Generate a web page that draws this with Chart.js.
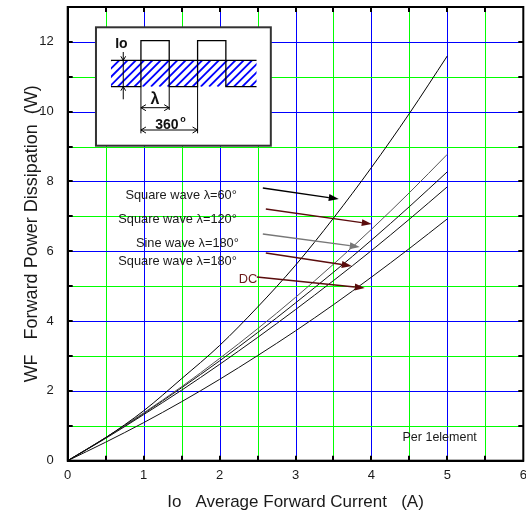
<!DOCTYPE html>
<html>
<head>
<meta charset="utf-8">
<script src="https://cdn.jsdelivr.net/npm/chart.js@4.4.1/dist/chart.umd.min.js"></script>
<style>
html,body{margin:0;padding:0;background:#fff;}
canvas{display:block;}
</style>
</head>
<body>
<canvas id="c" width="526" height="515"></canvas>
<script>
// ---- data ----
const current = [0, 0.5, 1, 1.5, 2, 2.5, 3, 3.5, 4, 4.5, 5];
const squareWave60  = [0, 0.66, 1.43, 2.35, 3.30, 4.40, 5.60, 6.95, 8.40, 9.95, 11.6];
const squareWave120 = [0, 0.66, 1.37, 2.12, 2.93, 3.78, 4.68, 5.63, 6.63, 7.68, 8.78];
const sineWave180   = [0, 0.66, 1.35, 2.09, 2.86, 3.67, 4.52, 5.40, 6.32, 7.28, 8.28];
const squareWave180 = [0, 0.64, 1.32, 2.02, 2.76, 3.53, 4.33, 5.16, 6.02, 6.92, 7.85];
const dcValues      = [0, 0.53, 1.09, 1.69, 2.33, 3.01, 3.72, 4.47, 5.26, 6.08, 6.93];
const seriesNames = ['Square wave λ=60°', 'Square wave λ=120°', 'Sine wave λ=180°', 'Square wave λ=180°', 'DC'];
const xTickValues = [0, 1, 2, 3, 4, 5, 6];
const yTickValues = [0, 2, 4, 6, 8, 10, 12];

const FAMILY = "'Liberation Sans', Arial, Helvetica, sans-serif";
const pts = arr => current.map((x, i) => ({x: x, y: arr[i]}));
const lineColors = ['#000000', '#555555', '#111111', '#111111', '#111111'];
const allSeries = [squareWave60, squareWave120, sineWave180, squareWave180, dcValues];

// annotation layout (reference pixel space, converted through the scales)
const annot = [
  {tx: 237, ty: 195, ax1: 263, ay1: 188, ax2: 339, ay2: 199, arrow: '#000000', text: '#1a1a1a'},
  {tx: 237, ty: 219, ax1: 266, ay1: 209, ax2: 372, ay2: 224, arrow: '#5a0c0c', text: '#1a1a1a'},
  {tx: 239, ty: 243, ax1: 263, ay1: 234, ax2: 360, ay2: 247, arrow: '#777777', text: '#1a1a1a'},
  {tx: 237, ty: 261, ax1: 266, ay1: 253, ax2: 352, ay2: 266, arrow: '#5a0c0c', text: '#1a1a1a'},
  {tx: 257, ty: 279, ax1: 257, ay1: 277, ax2: 365, ay2: 288, arrow: '#5a0c0c', text: '#6b1a1a', left: 239}
];

function mapRef(chart, rx, ry) {
  const xs = chart.scales.x, ys = chart.scales.y;
  return [xs.getPixelForValue((rx - 67.7) / 76), ys.getPixelForValue((460.7 - ry) / 34.9)];
}

function filledArrow(ctx, x1, y1, x2, y2, color) {
  const head = 10, w = 3.5;
  const a = Math.atan2(y2 - y1, x2 - x1);
  const bx = x2 - head * Math.cos(a), by = y2 - head * Math.sin(a);
  ctx.save();
  ctx.strokeStyle = color; ctx.fillStyle = color; ctx.lineWidth = 1.3;
  ctx.beginPath(); ctx.moveTo(x1, y1); ctx.lineTo(bx, by); ctx.stroke();
  ctx.beginPath();
  ctx.moveTo(x2, y2);
  ctx.lineTo(bx - w * Math.sin(a), by + w * Math.cos(a));
  ctx.lineTo(bx + w * Math.sin(a), by - w * Math.cos(a));
  ctx.closePath(); ctx.fill();
  ctx.restore();
}

function chevron(ctx, x, y, dir, s) {
  ctx.beginPath();
  if (dir === 'l') { ctx.moveTo(x + s, y - s * 0.6); ctx.lineTo(x, y); ctx.lineTo(x + s, y + s * 0.6); }
  if (dir === 'r') { ctx.moveTo(x - s, y - s * 0.6); ctx.lineTo(x, y); ctx.lineTo(x - s, y + s * 0.6); }
  if (dir === 'd') { ctx.moveTo(x - s * 0.6, y - s); ctx.lineTo(x, y); ctx.lineTo(x + s * 0.6, y - s); }
  if (dir === 'u') { ctx.moveTo(x - s * 0.6, y + s); ctx.lineTo(x, y); ctx.lineTo(x + s * 0.6, y + s); }
  ctx.stroke();
}

const snap = v => Math.round(v) + 0.5;

const decorPlugin = {
  id: 'decor',
  beforeDatasetsDraw(chart) {
    const ctx = chart.ctx, a = chart.chartArea;
    const xs = chart.scales.x, ys = chart.scales.y;
    const P = (x, y) => mapRef(chart, x, y);
    ctx.save();
    // grid lines: green at half-amps / odd watts, blue at whole amps / even watts
    ctx.lineWidth = 1;
    for (let v = 0.5; v < 6; v += 0.5) {
      const px = snap(xs.getPixelForValue(v));
      ctx.strokeStyle = Number.isInteger(v) ? '#0000ff' : '#00ff00';
      ctx.beginPath(); ctx.moveTo(px, a.top); ctx.lineTo(px, a.bottom); ctx.stroke();
    }
    for (let v = 1; v < 13; v += 1) {
      const py = snap(ys.getPixelForValue(v));
      ctx.strokeStyle = (v % 2 === 0) ? '#0000ff' : '#00ff00';
      ctx.beginPath(); ctx.moveTo(a.left, py); ctx.lineTo(a.right, py); ctx.stroke();
    }
    // inset box
    const [bx1, by1] = P(96, 27.3), [bx2, by2] = P(271, 145.7);
    ctx.fillStyle = '#ffffff';
    ctx.fillRect(bx1, by1, bx2 - bx1, by2 - by1);
    ctx.strokeStyle = '#333333'; ctx.lineWidth = 2;
    ctx.strokeRect(bx1, by1, bx2 - bx1, by2 - by1);
    // hatched band
    const [hx1, hy1] = P(111, 60.3), [hx2, hy2] = P(256.7, 86.7);
    ctx.save();
    ctx.beginPath(); ctx.rect(hx1, hy1, hx2 - hx1, hy2 - hy1); ctx.clip();
    ctx.strokeStyle = '#0000ff'; ctx.lineWidth = 1.8;
    const hh = hy2 - hy1;
    for (let x = hx1 - hh; x < hx2 + 2; x += 8.3) {
      ctx.beginPath(); ctx.moveTo(x, hy2); ctx.lineTo(x + hh, hy1); ctx.stroke();
    }
    ctx.restore();
    // waveform outline
    ctx.strokeStyle = '#000'; ctx.lineWidth = 1.3;
    ctx.beginPath(); ctx.moveTo(hx1, hy1); ctx.lineTo(hx2, hy1); ctx.stroke();
    const [p1] = P(141, 0), [p2] = P(169.3, 0), [p3] = P(197.7, 0), [p4] = P(226, 0);
    const [, topY] = P(0, 40.7);
    ctx.beginPath();
    ctx.moveTo(hx1, hy2); ctx.lineTo(p1, hy2); ctx.lineTo(p1, topY); ctx.lineTo(p2, topY); ctx.lineTo(p2, hy2);
    ctx.lineTo(p3, hy2); ctx.lineTo(p3, topY); ctx.lineTo(p4, topY); ctx.lineTo(p4, hy2); ctx.lineTo(hx2, hy2);
    ctx.stroke();
    // Io marker
    const [ix, iy1] = P(123.3, 52), [, iy2] = P(0, 99.3);
    ctx.lineWidth = 1;
    ctx.beginPath(); ctx.moveTo(ix, iy1); ctx.lineTo(ix, iy2); ctx.stroke();
    chevron(ctx, ix, hy1, 'd', 4);
    chevron(ctx, ix, hy2, 'u', 4);
    // extension lines
    const [, ey1] = P(0, 133.3), [, ey2] = P(0, 110);
    ctx.beginPath();
    ctx.moveTo(p1, hy2); ctx.lineTo(p1, ey1);
    ctx.moveTo(p2, hy2); ctx.lineTo(p2, ey2);
    ctx.moveTo(p3, hy2); ctx.lineTo(p3, ey1);
    ctx.stroke();
    // lambda and 360 dimensions
    const [, ly] = P(0, 107.7), [, ry] = P(0, 130);
    ctx.beginPath(); ctx.moveTo(p1, ly); ctx.lineTo(p2, ly); ctx.stroke();
    chevron(ctx, p1, ly, 'l', 5); chevron(ctx, p2, ly, 'r', 5);
    ctx.beginPath(); ctx.moveTo(p1, ry); ctx.lineTo(p3, ry); ctx.stroke();
    chevron(ctx, p1, ry, 'l', 5); chevron(ctx, p3, ry, 'r', 5);
    // texts
    ctx.fillStyle = '#111';
    ctx.textAlign = 'center'; ctx.textBaseline = 'middle';
    ctx.font = 'bold 14px ' + FAMILY;
    let t = P(121.5, 44); ctx.fillText('Io', t[0], t[1]);
    ctx.font = 'bold 16px ' + FAMILY;
    t = P(155, 100); ctx.fillText('λ', t[0], t[1]);
    ctx.font = 'bold 14px ' + FAMILY;
    t = P(167, 125.5); ctx.fillText('360', t[0], t[1]);
    ctx.font = 'bold 9px ' + FAMILY;
    t = P(183, 120); ctx.fillText('o', t[0], t[1]);
    ctx.restore();
  },
  afterDatasetsDraw(chart) {
    const ctx = chart.ctx, a = chart.chartArea;
    const xs = chart.scales.x, ys = chart.scales.y;
    ctx.save();
    ctx.strokeStyle = '#000'; ctx.lineWidth = 2;
    ctx.strokeRect(a.left, a.top, a.right - a.left, a.bottom - a.top);
    const tl = 5;
    ctx.beginPath();
    for (let v = 0.5; v < 6; v += 0.5) {
      const px = Math.round(xs.getPixelForValue(v));
      ctx.moveTo(px, a.bottom); ctx.lineTo(px, a.bottom - tl);
      ctx.moveTo(px, a.top); ctx.lineTo(px, a.top + tl);
    }
    for (let v = 1; v < 13; v += 1) {
      const py = Math.round(ys.getPixelForValue(v));
      ctx.moveTo(a.left, py); ctx.lineTo(a.left + tl, py);
      ctx.moveTo(a.right, py); ctx.lineTo(a.right - tl, py);
    }
    ctx.stroke();
    ctx.restore();
  },
  afterDraw(chart) {
    const ctx = chart.ctx;
    const P = (x, y) => mapRef(chart, x, y);
    ctx.save();
    ctx.font = '12.8px ' + FAMILY;
    ctx.textBaseline = 'middle';
    annot.forEach((an, i) => {
      ctx.fillStyle = an.text;
      if (an.left !== undefined) {
        ctx.textAlign = 'left';
        const p = P(an.left, an.ty); ctx.fillText(seriesNames[i], p[0], p[1]);
      } else {
        ctx.textAlign = 'right';
        const p = P(an.tx, an.ty); ctx.fillText(seriesNames[i], p[0], p[1]);
      }
      const s = P(an.ax1, an.ay1), e = P(an.ax2, an.ay2);
      filledArrow(ctx, s[0], s[1], e[0], e[1], an.arrow);
    });
    ctx.fillStyle = '#1a1a1a'; ctx.textAlign = 'center';
    ctx.font = '12.5px ' + FAMILY;
    const p = P(440, 437.5);
    ctx.fillText('Per 1element', p[0], p[1]);
    ctx.restore();
  }
};

new Chart(document.getElementById('c'), {
  type: 'line',
  data: {
    datasets: allSeries.map((s, i) => ({
      label: seriesNames[i],
      data: pts(s),
      borderColor: lineColors[i],
      borderWidth: 1,
      pointRadius: 0,
      fill: false,
      cubicInterpolationMode: 'monotone'
    }))
  },
  options: {
    responsive: false,
    animation: false,
    devicePixelRatio: 1,
    layout: {padding: {left: 0, right: 2.7, top: 7, bottom: 0}},
    plugins: {legend: {display: false}, tooltip: {enabled: false}},
    scales: {
      x: {
        type: 'linear', min: 0, max: 6,
        afterFit(s) { s.height = 54.3; s.paddingLeft = 0; s.paddingRight = 0; },
        ticks: {
          stepSize: 0.5, autoSkip: false, maxRotation: 0, padding: 7, color: '#1a1a1a',
          font: {family: FAMILY, size: 13},
          callback: v => xTickValues.includes(v) ? String(v) : ''
        },
        grid: {display: false, drawTicks: false},
        border: {display: true, color: '#000', width: 2},
        title: {display: true, text: 'Io   Average Forward Current   (A)', color: '#1a1a1a',
          font: {family: FAMILY, size: 17}, padding: {top: 0, bottom: 2}}
      },
      y: {
        type: 'linear', min: 0, max: 13,
        afterFit(s) { s.width = 67.7; s.paddingTop = 0; s.paddingBottom = 0; },
        ticks: {
          stepSize: 1, autoSkip: false, padding: 14, color: '#1a1a1a',
          font: {family: FAMILY, size: 13},
          callback: v => yTickValues.includes(v) ? String(v) : ''
        },
        grid: {display: false, drawTicks: false},
        border: {display: true, color: '#000', width: 2},
        title: {display: true, text: 'WF   Forward Power Dissipation  (W)', color: '#1a1a1a',
          font: {family: FAMILY, size: 18}, padding: {top: 21, bottom: 0}}
      }
    }
  },
  plugins: [decorPlugin]
});
</script>
</body>
</html>
